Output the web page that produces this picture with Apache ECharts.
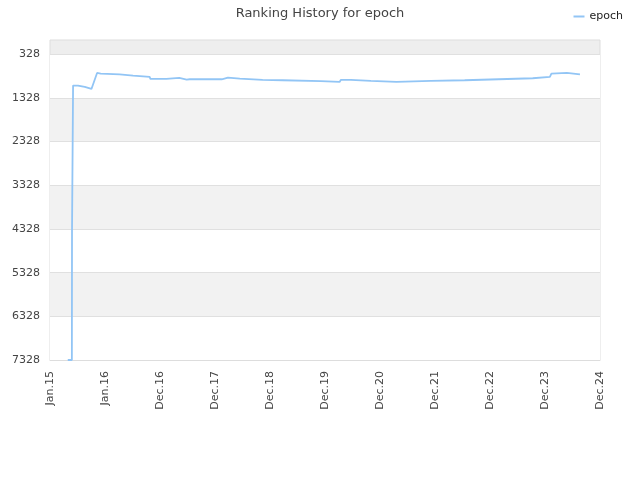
<!DOCTYPE html>
<html>
<head>
<meta charset="utf-8">
<script src="https://cdn.jsdelivr.net/npm/echarts@6/dist/echarts.min.js"></script>
<style>html,body{margin:0;padding:0;background:#fff}#c{width:640px;height:480px}</style>
</head>
<body>
<div id="c"></div>
<script>
const dates = [
  '2015-04-28','2015-05-25','2015-05-26','2015-06-01','2015-06-02','2015-07-04','2015-07-08','2015-08-18','2015-08-22','2015-10-01',
  '2015-11-07','2015-12-01','2015-12-06','2016-04-04','2016-04-08','2016-07-01','2016-07-05','2016-10-19','2016-10-23','2017-02-05',
  '2017-02-09','2017-05-01','2017-05-05','2017-06-19','2017-06-27','2017-07-09','2018-02-05','2018-02-12','2018-03-18','2018-03-22',
  '2018-06-04','2018-06-08','2018-11-01','2018-11-05','2019-03-13','2019-03-17','2019-11-19','2019-11-23','2020-03-22','2020-03-30',
  '2020-06-04','2020-06-08','2020-10-14','2020-10-18','2021-04-01','2021-04-05','2021-11-13','2021-11-17','2022-06-24','2022-06-28',
  '2023-02-04','2023-02-08','2023-09-15','2023-09-19','2024-01-06','2024-01-16','2024-01-25','2024-04-27','2024-05-01','2024-07-22'
];
const ranks = [
  7328,7328,4350,4350,1044,1044,1076,1076,1110,1122,
  756,770,786,786,815,815,847,847,893,893,
  870,870,900,907,946,900,900,861,861,884,
  884,916,916,923,923,942,942,962,962,916,
  916,939,939,962,962,939,939,923,923,900,
  900,877,877,847,847,770,756,756,786,786
];
const yTicks = [328,1328,2328,3328,4328,5328,6328,7328];
const xLabels = ['Jan.15','Jan.16','Dec.16','Dec.17','Dec.18','Dec.19','Dec.20','Dec.21','Dec.22','Dec.23','Dec.24'];
const xMin = Date.UTC(2015,0,1), xMax = Date.UTC(2024,11,1);
const xStep = (xMax - xMin) / (xLabels.length - 1);
const xTicks = xLabels.map((_, i) => xMin + i * xStep);

const chart = echarts.init(document.getElementById('c'), null, {renderer:'canvas'});
chart.setOption({
  animation: false,
  textStyle: {fontFamily: 'DejaVu Sans'},
  title: {text: 'Ranking History for epoch', left: 'center', top: 2,
    textStyle: {fontSize: 13, fontWeight: 'normal', color: '#444', fontFamily: 'DejaVu Sans'}},
  legend: {right: 12, top: 6, icon: 'rect', itemWidth: 11, itemHeight: 2, itemGap: 8,
    textStyle: {fontSize: 11, color: '#222'}, data: ['epoch']},
  grid: {left: 50, right: 40, top: 40, bottom: 120, show: true, borderColor: '#dddddd', borderWidth: 1, backgroundColor: '#eeeeee'},
  xAxis: {
    type: 'value', min: xMin, max: xMax,
    axisLine: {show: true, lineStyle: {color: '#dddddd'}},
    axisTick: {show: false, customValues: xTicks},
    splitLine: {show: false},
    axisLabel: {customValues: xTicks, rotate: 90, fontSize: 11, color: '#444', margin: 11,
      formatter: function (v) { return xLabels[Math.round((v - xMin) / xStep)]; }}
  },
  yAxis: {
    type: 'value', inverse: true, min: 1, max: 7328,
    axisLine: {show: false},
    axisTick: {show: false, customValues: yTicks},
    axisLabel: {customValues: yTicks, fontSize: 11, color: '#444', margin: 10,
      formatter: function (v) { return String(v); }},
    splitLine: {show: true, lineStyle: {color: '#e0e0e0'}},
    splitArea: {show: true, areaStyle: {color: ['#ffffff', '#f2f2f2']}}
  },
  series: [{
    name: 'epoch', type: 'line', showSymbol: false, symbol: 'none',
    lineStyle: {color: '#92c5f5', width: 1.8}, itemStyle: {color: '#92c5f5'},
    data: dates.map((d, i) => [Date.parse(d), ranks[i]])
  }]
});
</script>
</body>
</html>
